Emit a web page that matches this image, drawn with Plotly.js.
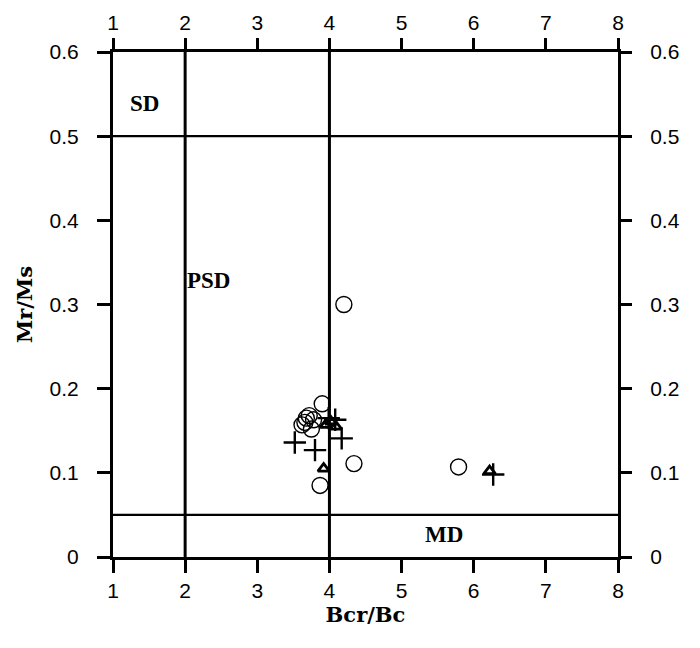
<!DOCTYPE html>
<html>
<head>
<meta charset="utf-8">
<script src="https://cdn.plot.ly/plotly-3.0.1.min.js"></script>
<style>
  body { margin: 0; background: #fff; }
  #plot { width: 700px; height: 648px; }
</style>
</head>
<body>
<div id="plot"></div>
<script>
// Day plot: Bcr/Bc vs Mr/Ms
let circleBcr = [4.20, 5.79, 4.34, 3.87, 3.90, 3.62, 3.68, 3.72, 3.75, 3.66, 3.78];
let circleMr  = [0.300, 0.107, 0.111, 0.085, 0.182, 0.157, 0.165, 0.168, 0.152, 0.160, 0.163];

let crossBcr = [3.52, 3.80, 4.17, 4.08, 3.99, 6.27];
let crossMr  = [0.136, 0.127, 0.141, 0.163, 0.165, 0.098];

let triBcr = [3.92, 3.95, 4.02, 4.09, 6.22];
let triMr  = [0.105, 0.157, 0.161, 0.155, 0.102];

// domain boundaries
let bcrLines = [2, 4];
let mrLines = [0.05, 0.5];

let zones = ['SD', 'PSD', 'MD'];
let zoneX = [1.44, 2.32, 5.59];
let zoneY = [0.539, 0.329, 0.027];

let xTicks = [1, 2, 3, 4, 5, 6, 7, 8];
let yTicks = [0, 0.1, 0.2, 0.3, 0.4, 0.5, 0.6];
let yTickText = ['0', '0.1', '0.2', '0.3', '0.4', '0.5', '0.6'];

let tickFont = {family: 'Liberation Sans, Arial, sans-serif', size: 21, color: '#000'};
let labFont = {family: 'Liberation Serif, Times New Roman, serif', size: 23, color: '#000'};
let titleFont = {family: 'DejaVu Serif, serif', size: 21, color: '#000'};

let traces = [
    {x: circleBcr, y: circleMr, mode: 'markers', type: 'scatter',
     marker: {symbol: 'circle-open', size: 16, color: '#000', line: {width: 1.4, color: '#000'}}},
    {x: crossBcr, y: crossMr, mode: 'markers', type: 'scatter',
     marker: {symbol: 'cross-thin-open', size: 16, color: '#000', line: {width: 2.4, color: '#000'}}},
    {x: triBcr, y: triMr, mode: 'markers', type: 'scatter',
     marker: {symbol: 'triangle-up-open', size: 10, color: '#000', line: {width: 2.8, color: '#000'}}},
    // empty trace so the top/right axes get drawn
    {x: [], y: [], xaxis: 'x2', yaxis: 'y2', type: 'scatter', mode: 'markers', hoverinfo: 'skip'}
];

let shapes = [];
for (let i = 0; i < bcrLines.length; i++) {
    shapes.push({type: 'line', xref: 'x', yref: 'paper', x0: bcrLines[i], x1: bcrLines[i], y0: 0, y1: 1,
                 line: {color: '#000', width: 3}, layer: 'below'});
}
for (let i = 0; i < mrLines.length; i++) {
    shapes.push({type: 'line', xref: 'paper', yref: 'y', x0: 0, x1: 1, y0: mrLines[i], y1: mrLines[i],
                 line: {color: '#000', width: 2.4}, layer: 'below'});
}

let annotations = [];
for (let i = 0; i < zones.length; i++) {
    annotations.push({x: zoneX[i], y: zoneY[i], xref: 'x', yref: 'y', text: '<b>' + zones[i] + '</b>',
                      showarrow: false, font: labFont});
}

let axisBase = {
    showgrid: false, zeroline: false, ticks: 'outside', ticklen: 13, tickwidth: 3,
    tickcolor: '#000', tickfont: tickFont
};

let layout = {
    width: 700, height: 648,
    margin: {l: 113, r: 82, t: 52, b: 91},
    paper_bgcolor: '#fff', plot_bgcolor: '#fff',
    showlegend: false,
    xaxis: Object.assign({}, axisBase, {
        range: [1, 8], tickvals: xTicks, showline: true, linewidth: 3, linecolor: '#000', mirror: true,
        title: {text: '<b>Bcr/Bc</b>', font: titleFont, standoff: 6}
    }),
    yaxis: Object.assign({}, axisBase, {
        range: [0, 0.6], tickvals: yTicks, ticktext: yTickText, showline: true, linewidth: 3, linecolor: '#000', mirror: true,
        ticklabelstandoff: 14,
        title: {text: '<b>Mr/Ms</b>', font: titleFont, standoff: 12}
    }),
    xaxis2: Object.assign({}, axisBase, {
        range: [1, 8], tickvals: xTicks, overlaying: 'x', side: 'top', showline: false
    }),
    yaxis2: Object.assign({}, axisBase, {
        range: [0, 0.6], tickvals: yTicks, ticktext: yTickText, overlaying: 'y', side: 'right', showline: false,
        ticklabelstandoff: 14
    }),
    shapes: shapes,
    annotations: annotations
};

Plotly.newPlot('plot', traces, layout, {displayModeBar: false, staticPlot: true});
</script>
</body>
</html>
